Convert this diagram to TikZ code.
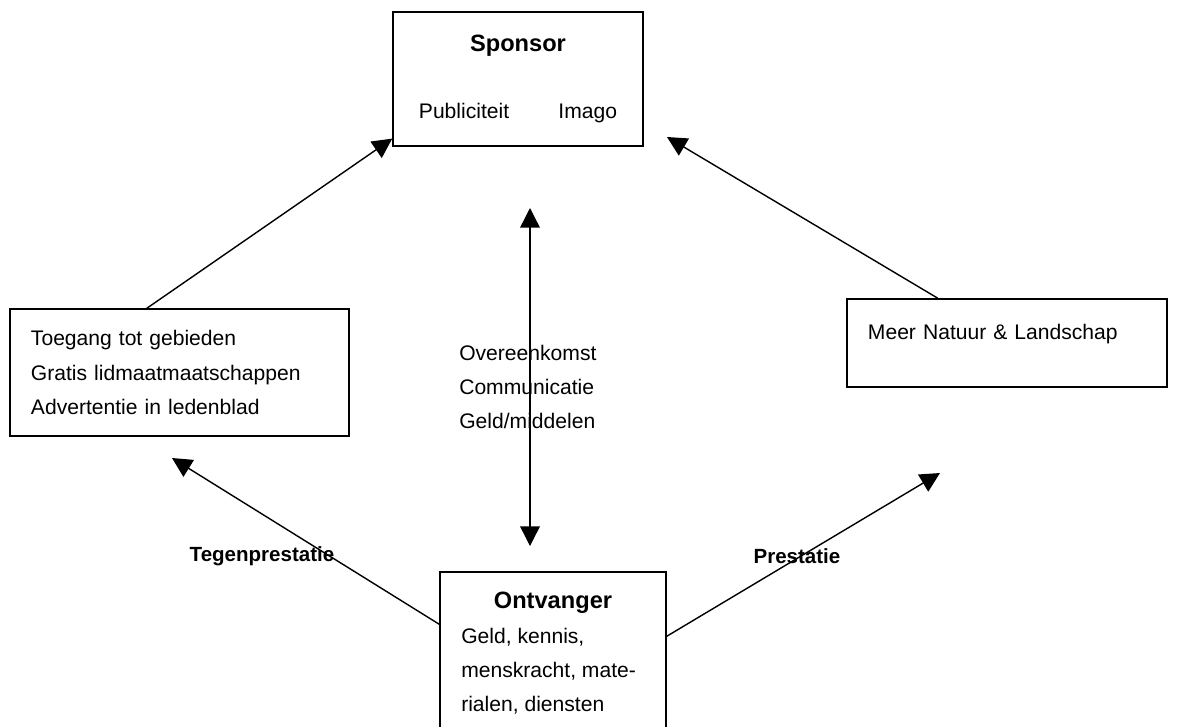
\documentclass[tikz,border=0pt]{standalone}
\usepackage{fontspec}
\setmainfont{Liberation Sans}
\usetikzlibrary{arrows.meta,calc}

\begin{document}
\begin{tikzpicture}[x=0.025cm, y=-0.025cm]
    % Define styles
    \tikzset{
        party/.style={draw, line width=1pt, minimum width=6.25cm, minimum height=3.35cm, align=center, font=\fontsize{15}{24.5}\selectfont},
        benefit/.style={draw, line width=1pt, inner xsep=0.525cm, align=left, font=\fontsize{15}{24.5}\selectfont},
        plain/.style={inner sep=0pt, align=left, font=\fontsize{15}{24.2}\selectfont},
        flowlabel/.style={inner sep=0pt, font=\fontsize{14.6}{17}\selectfont\bfseries},
        arrow/.style={-{Triangle[length=14pt, width=14pt]}, line width=1pt},
        biarrow/.style={{Triangle[length=14pt, width=14pt]}-{Triangle[length=14pt, width=14pt]}, line width=1pt}
    }
    \clip (0,0) rectangle (1180,726);

    % Sponsor
    \node[party] (sponsor) at (518,79) {{\fontsize{16.8}{20}\selectfont\bfseries Sponsor}\\[23pt] Publiciteit\hspace{35pt}Imago};

    % Tegenprestatie and prestatie boxes
    \node[benefit, text width=7.425cm, minimum height=3.175cm] (tegen) at (179.5,372.5) {Toegang tot gebieden\\ Gratis lidmaatmaatschappen\\ Advertentie in ledenblad};
    \node[benefit, text width=6.95cm, minimum height=2.2cm, text height=11pt, text depth=16.7pt] (natuur) at (1007,343) {Meer Natuur \& Landschap};

    % Ontvanger
    \node[party, minimum width=5.65cm, minimum height=5cm] (ontv) at (553,672) {};
    \node[flowlabel, font=\fontsize{16.8}{20}\selectfont\bfseries] (ontvtitle) at (553,603) {Ontvanger};
    \node[plain, anchor=west] (ontvlist) at (461,671.5) {Geld, kennis,\\ menskracht, mate-\\ rialen, diensten};

    % Middle text
    \node[plain, anchor=west] (afspraak) at (459,387) {Overeenkomst\\ Communicatie\\ Geld/middelen};

    % Free arrow ends
    \coordinate (midtop) at (530,208);
    \coordinate (midbot) at (530,546);
    \coordinate (sponsortip) at (667,137);
    \coordinate (tegentip) at (172,458);
    \coordinate (natuurtip) at (940,473);

    % Arrows
    \draw[arrow] ($(tegen.north west)!0.404!(tegen.north east)$) -- ($(sponsor.north west)!0.94!(sponsor.south west)$);
    \draw[arrow] ($(natuur.north west)!0.285!(natuur.north east)$) -- (sponsortip);
    \draw[biarrow] (midtop) -- (midbot);
    \draw[arrow] ($(ontv.north west)+(0,53)$) -- (tegentip);
    \draw[arrow] ($(ontv.north east)+(0,65)$) -- (natuurtip);

    % Labels
    \node[flowlabel] (tegenlabel) at (262,556) {Tegenprestatie};
    \node[flowlabel] (prestlabel) at (797,556) {Prestatie};
\end{tikzpicture}
\end{document}
